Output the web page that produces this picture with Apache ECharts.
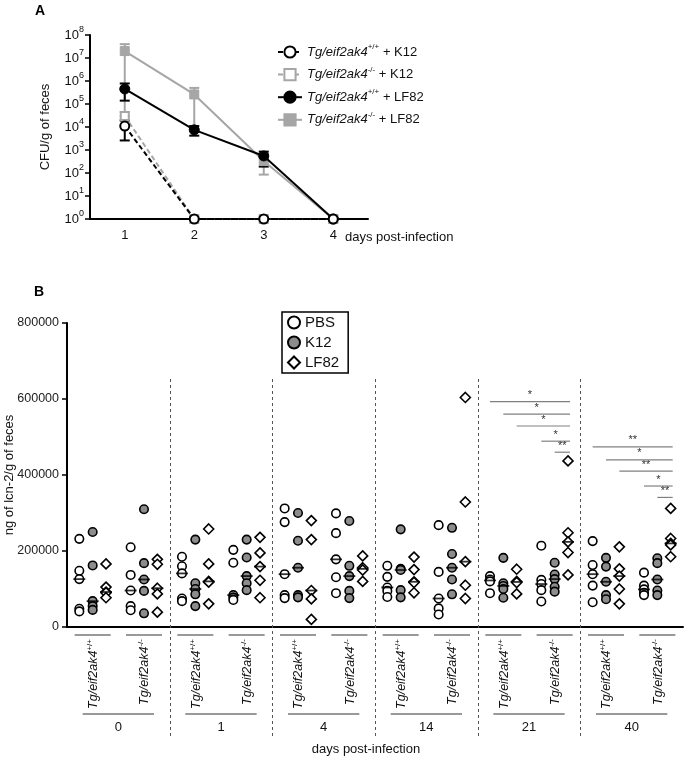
<!DOCTYPE html>
<html><head><meta charset="utf-8">
<script src="https://cdn.jsdelivr.net/npm/echarts@6/dist/echarts.min.js"></script>
<style>html,body{margin:0;padding:0;background:#fff}#c{width:685px;height:759px}</style>
</head><body><div id="c"></div>
<script>
// ---------- Panel A data (CFU/g of feces) ----------
const aDays = ['1', '2', '3', '4'];
const wtK12 = [11000, 1, 1, 1];
const wtK12Low = [2600, 1, 1, 1];
const wtK12High = [19000, 1, 1, 1];
const koK12 = [30000, 1, 1, 1];
const koK12Low = [20000, 1, 1, 1];
const koK12High = [45000, 1, 1, 1];
const wtLF82 = [450000, 7500, 550, 1];
const wtLF82Low = [140000, 4200, 190, 1];
const wtLF82High = [780000, 11000, 850, 1];
const koLF82 = [20000000, 260000, 330, 1];
const koLF82Low = [30000, 8000, 85, 1];
const koLF82High = [40000000, 500000, 700, 1];

// ---------- Panel B data (ng of lcn-2/g of feces) ----------
const bDays = ['0', '1', '4', '14', '21', '40'];
const genotypes = ['+/+', '-/-'];
const treatments = ['PBS', 'K12', 'LF82'];
// 12 groups: day0 +/+, day0 -/-, day1 +/+, day1 -/-, ...
const pbsVals = [
  [232000, 148000, 126000, 48000, 41000],
  [210000, 137000, 96000, 55000, 44000],
  [185000, 160000, 141000, 75000, 68000],
  [203000, 169000, 84000, 78000, 71000],
  [312000, 276000, 139000, 84000, 76000],
  [299000, 247000, 178000, 131000, 89000],
  [161000, 132000, 104000, 95000, 79000],
  [268000, 145000, 75000, 49000, 33000],
  [134000, 125000, 120000, 89000],
  [214000, 124000, 113000, 97000, 67000],
  [226000, 163000, 139000, 109000, 65000],
  [143000, 109000, 99000, 90000, 84000]
];
const k12Vals = [
  [250000, 162000, 68000, 55000, 45000],
  [310000, 168000, 125000, 95000, 36000],
  [230000, 115000, 100000, 86000, 55000],
  [230000, 183000, 134000, 115000, 97000],
  [300000, 227000, 156000, 84000, 78000],
  [279000, 161000, 134000, 95000, 76000],
  [257000, 153000, 150000, 97000, 78000],
  [261000, 192000, 156000, 125000, 86000],
  [182000, 115000, 108000, 100000, 77000],
  [169000, 138000, 126000, 106000, 93000],
  [182000, 159000, 119000, 84000, 73000],
  [181000, 168000, 125000, 96000, 84000]
];
const lf82Vals = [
  [166000, 105000, 92000, 90000, 77000],
  [178000, 165000, 102000, 87000, 39000],
  [258000, 166000, 120000, 118000, 61000],
  [236000, 195000, 159000, 123000, 77000],
  [280000, 230000, 96000, 74000, 20000],
  [187000, 156000, 150000, 120000],
  [184000, 151000, 119000, 117000, 90000],
  [604000, 329000, 172000, 110000, 75000],
  [152000, 120000, 117000, 87000],
  [437000, 248000, 224000, 196000, 137000],
  [211000, 153000, 134000, 100000, 61000],
  [312000, 233000, 220000, 216000, 185000]
];
// significance bars: compare column (0..4) with LF82 -/- (column 5)
const sigDays = [4, 5]; // day index (21, 40)
const sigLevels = [
  [593000, 560000, 529000, 489000, 460000],
  [474000, 440000, 410000, 371000, 341000]
];
const sigLabels = [
  ['*', '*', '*', '*', '**'],
  ['**', '*', '**', '*', '**']
];

// ---------- helpers ----------
const FONT = '"Liberation Sans", Arial, Helvetica, sans-serif';
const GREY = '#a6a6a6';
const KGREY = '#8c8c8c';
const COLOFF = 0.26;
const colX = (k, t) => k + (t - 1) * COLOFF;

function errSeries(lo, hi, color, z) {
  return {
    type: 'custom', xAxisIndex: 0, yAxisIndex: 0, silent: true, z: z,
    data: lo.map((l, i) => [i, l, hi[i]]),
    encode: { x: 0, y: [1, 2] },
    renderItem(params, api) {
      const x = api.value(0), l = api.value(1), h = api.value(2);
      if (l === h) return { type: 'group', children: [] };
      const a = api.coord([x, h]), b = api.coord([x, l]);
      const w = 5;
      const st = { stroke: color, lineWidth: 2 };
      return { type: 'group', children: [
        { type: 'line', shape: { x1: a[0], y1: a[1], x2: b[0], y2: b[1] }, style: st },
        { type: 'line', shape: { x1: a[0] - w, y1: a[1], x2: a[0] + w, y2: a[1] }, style: st },
        { type: 'line', shape: { x1: b[0] - w, y1: b[1], x2: b[0] + w, y2: b[1] }, style: st }
      ] };
    }
  };
}

function scatterData(vals, t) {
  const out = [];
  vals.forEach((arr, k) => arr.forEach(v => out.push([colX(k, t), v])));
  return out;
}
function median(arr) {
  const s = arr.slice().sort((a, b) => a - b);
  const n = s.length;
  return n % 2 ? s[(n - 1) / 2] : (s[n / 2 - 1] + s[n / 2]) / 2;
}
const medianData = [];
[pbsVals, k12Vals, lf82Vals].forEach((vals, t) => vals.forEach((arr, k) => medianData.push([colX(k, t), median(arr)])));

const sigData = [];
const sigText = [];
sigDays.forEach((d, j) => {
  sigLevels[j].forEach((y, i) => {
    const k0 = 2 * d;
    const xs = i < 3 ? colX(k0, i) : colX(k0 + 1, i - 3);
    sigData.push([xs, colX(k0 + 1, 2), y]);
    sigText.push(sigLabels[j][i]);
  });
});

const legendLabels = {
  wtK12: '{i|Tg/eif2ak4}{s|+/+}{n| + K12}',
  koK12: '{i|Tg/eif2ak4}{s|-/-}{n| + K12}',
  wtLF82: '{i|Tg/eif2ak4}{s|+/+}{n| + LF82}',
  koLF82: '{i|Tg/eif2ak4}{s|-/-}{n| + LF82}'
};

const chart = echarts.init(document.getElementById('c'), null, { renderer: 'canvas' });

const option = {
  animation: false,
  backgroundColor: '#fff',
  textStyle: { fontFamily: FONT },
  grid: [
    { left: 90, top: 35, width: 278, height: 184, containLabel: false, outerBoundsMode: 'none' },
    { left: 67, top: 323, width: 616, height: 304, containLabel: false, outerBoundsMode: 'none' }
  ],
  xAxis: [
    {
      gridIndex: 0, type: 'category', data: aDays, boundaryGap: true,
      axisLine: { lineStyle: { color: '#000', width: 2 } },
      axisTick: { alignWithLabel: true, length: 5, lineStyle: { color: '#000', width: 1.5 } },
      axisLabel: { color: '#111', fontSize: 13, margin: 10, fontFamily: FONT },
      splitLine: { show: false }
    },
    {
      gridIndex: 1, type: 'value', min: -0.5, max: 11.5,
      axisLine: { onZero: false, lineStyle: { color: '#000', width: 2 } },
      axisTick: { show: false }, axisLabel: { show: false }, splitLine: { show: false }
    }
  ],
  yAxis: [
    {
      gridIndex: 0, type: 'log', logBase: 10, min: 1, max: 100000000, interval: 1,
      name: 'CFU/g of feces', nameLocation: 'middle', nameGap: 38, nameMoveOverlap: false,
      nameTextStyle: { fontSize: 13, color: '#111', fontFamily: FONT },
      axisLine: { show: true, onZero: false, lineStyle: { color: '#000', width: 2 } },
      axisTick: { show: true, length: 5, lineStyle: { color: '#000', width: 1.5 } },
      minorTick: { show: false },
      splitLine: { show: false },
      axisLabel: {
        margin: 6, color: '#111', fontFamily: FONT,
        formatter: v => '{b|10}{s|' + Math.round(Math.log10(v)) + '}',
        rich: {
          b: { fontSize: 13, lineHeight: 20, fontFamily: FONT, color: '#111' },
          s: { fontSize: 9, lineHeight: 20, verticalAlign: 'top', fontFamily: FONT, color: '#111' }
        }
      }
    },
    {
      gridIndex: 1, type: 'value', min: 0, max: 800000, interval: 200000,
      name: 'ng of lcn-2/g of feces', nameLocation: 'middle', nameGap: 51, nameMoveOverlap: false,
      nameTextStyle: { fontSize: 13, color: '#111', fontFamily: FONT },
      axisLine: { show: true, onZero: false, lineStyle: { color: '#000', width: 2 } },
      axisTick: { show: true, length: 5, lineStyle: { color: '#000', width: 1.5 } },
      splitLine: { show: false },
      axisLabel: { margin: 8, fontSize: 12.5, color: '#222', fontFamily: FONT, formatter: v => String(v) }
    }
  ],
  legend: [
    {
      data: ['wtK12', 'koK12', 'wtLF82', 'koLF82'],
      orient: 'vertical', left: 272, top: 38, itemWidth: 24, itemHeight: 14, itemGap: 7,
      selectedMode: false,
      formatter: n => legendLabels[n],
      textStyle: {
        fontFamily: FONT, fontSize: 13, color: '#111',
        rich: {
          i: { fontStyle: 'italic', fontSize: 13, lineHeight: 18, fontFamily: FONT, color: '#111' },
          s: { fontSize: 8, lineHeight: 18, verticalAlign: 'top', fontFamily: FONT, color: '#111' },
          n: { fontSize: 13, lineHeight: 18, fontFamily: FONT, color: '#111' }
        }
      }
    },
    {
      data: treatments, orient: 'vertical', left: 282, top: 312,
      itemWidth: 12, itemHeight: 12, itemGap: 5,
      padding: [3, 9, 3, 5],
      borderColor: '#000', borderWidth: 1.5,
      selectedMode: false,
      textStyle: { fontFamily: FONT, fontSize: 15, color: '#111' }
    }
  ],
  series: [
    errSeries(koLF82Low, koLF82High, GREY, 2),
    errSeries(wtLF82Low, wtLF82High, '#000', 2),
    errSeries(koK12Low, koK12High, GREY, 2),
    errSeries(wtK12Low, wtK12High, '#000', 2),
    {
      name: 'koLF82', type: 'line', xAxisIndex: 0, yAxisIndex: 0, data: koLF82, clip: false, z: 3,
      symbol: 'rect', symbolSize: 9,
      lineStyle: { color: GREY, width: 2, type: 'solid' },
      itemStyle: { color: GREY, borderColor: GREY, borderWidth: 1 }
    },
    {
      name: 'wtLF82', type: 'line', xAxisIndex: 0, yAxisIndex: 0, data: wtLF82, clip: false, z: 4,
      symbol: 'circle', symbolSize: 10,
      lineStyle: { color: '#000', width: 2, type: 'solid' },
      itemStyle: { color: '#000', borderColor: '#000', borderWidth: 1 }
    },
    {
      name: 'koK12', type: 'line', xAxisIndex: 0, yAxisIndex: 0, data: koK12, clip: false, z: 3,
      symbol: 'rect', symbolSize: 8,
      lineStyle: { color: GREY, width: 2, type: [5, 3] },
      itemStyle: { color: '#fff', borderColor: GREY, borderWidth: 2 }
    },
    {
      name: 'wtK12', type: 'line', xAxisIndex: 0, yAxisIndex: 0, data: wtK12, clip: false, z: 4,
      symbol: 'circle', symbolSize: 9,
      lineStyle: { color: '#000', width: 2, type: [5, 3] },
      itemStyle: { color: '#fff', borderColor: '#000', borderWidth: 2 }
    },
    {
      name: 'PBS', type: 'scatter', xAxisIndex: 1, yAxisIndex: 1, data: scatterData(pbsVals, 0),
      symbol: 'circle', symbolSize: 8.5, z: 3,
      itemStyle: { color: '#fff', borderColor: '#000', borderWidth: 1.6, opacity: 1 }
    },
    {
      name: 'K12', type: 'scatter', xAxisIndex: 1, yAxisIndex: 1, data: scatterData(k12Vals, 1),
      symbol: 'circle', symbolSize: 8.5, z: 3,
      itemStyle: { color: KGREY, borderColor: '#000', borderWidth: 1.6, opacity: 1 }
    },
    {
      name: 'LF82', type: 'scatter', xAxisIndex: 1, yAxisIndex: 1, data: scatterData(lf82Vals, 2),
      symbol: 'diamond', symbolSize: 10, z: 3,
      itemStyle: { color: '#fff', borderColor: '#000', borderWidth: 1.6, opacity: 1 }
    },
    {
      name: 'median', type: 'scatter', xAxisIndex: 1, yAxisIndex: 1, data: medianData,
      symbol: 'rect', symbolSize: [12, 1.8], z: 4, silent: true,
      itemStyle: { color: '#000' }
    },
    {
      name: 'sig', type: 'custom', xAxisIndex: 1, yAxisIndex: 1, data: sigData,
      encode: { x: [0, 1], y: 2 }, silent: true, z: 2,
      renderItem(params, api) {
        const a = api.coord([api.value(0), api.value(2)]);
        const b = api.coord([api.value(1), api.value(2)]);
        return { type: 'group', children: [
          { type: 'line', shape: { x1: a[0], y1: a[1], x2: b[0] + 2, y2: b[1] }, style: { stroke: '#808080', lineWidth: 1.2 } },
          { type: 'text', x: (a[0] + b[0]) / 2 + 1, y: a[1] - 1,
            style: { text: sigText[params.dataIndex], fill: '#333', font: '11px ' + FONT, align: 'center', verticalAlign: 'bottom' } }
        ] };
      }
    }
  ]
};
chart.setOption(option);

// ---------- annotations below panel B axis ----------
const px = v => chart.convertToPixel({ xAxisIndex: 1 }, v);
const g = [];
g.push({ type: 'text', x: 35, y: 4, style: { text: 'A', font: 'bold 14px ' + FONT, fill: '#000' } });
g.push({ type: 'text', x: 34, y: 285, style: { text: 'B', font: 'bold 14px ' + FONT, fill: '#000' } });
g.push({ type: 'text', x: 345, y: 237, style: { text: 'days post-infection', font: '13px ' + FONT, fill: '#111', verticalAlign: 'middle' } });
for (let d = 1; d < bDays.length; d++) {
  const x = Math.round(px(2 * d - 0.5)) + 0.5;
  g.push({ type: 'line', shape: { x1: x, y1: 379, x2: x, y2: 736 }, style: { stroke: '#555', lineWidth: 1, lineDash: [3, 3] }, z: 1 });
}
for (let k = 0; k < 12; k++) {
  const cx = px(k);
  g.push({ type: 'line', shape: { x1: cx - 18, y1: 635, x2: cx + 18, y2: 635 }, style: { stroke: '#777', lineWidth: 1.5 } });
  g.push({ type: 'text', x: cx + 1, y: 639, rotation: Math.PI / 2,
    style: {
      text: '{i|Tg/eif2ak4}{s|' + genotypes[k % 2] + '}',
      align: 'right', verticalAlign: 'middle',
      rich: {
        i: { fontStyle: 'italic', fontSize: 12.5, lineHeight: 16, fontFamily: FONT, fill: '#111' },
        s: { fontSize: 8, lineHeight: 16, verticalAlign: 'top', fontFamily: FONT, fill: '#111' }
      }
    } });
}
bDays.forEach((lab, d) => {
  const a = px(2 * d) - 10, b = px(2 * d + 1) + 10;
  g.push({ type: 'line', shape: { x1: a, y1: 714, x2: b, y2: 714 }, style: { stroke: '#777', lineWidth: 1.5 } });
  g.push({ type: 'text', x: (a + b) / 2, y: 727, style: { text: lab, font: '13px ' + FONT, fill: '#111', align: 'center', verticalAlign: 'middle' } });
});
g.push({ type: 'text', x: 366, y: 749, style: { text: 'days post-infection', font: '13px ' + FONT, fill: '#111', align: 'center', verticalAlign: 'middle' } });
chart.setOption({ graphic: g });
</script>
</body></html>
